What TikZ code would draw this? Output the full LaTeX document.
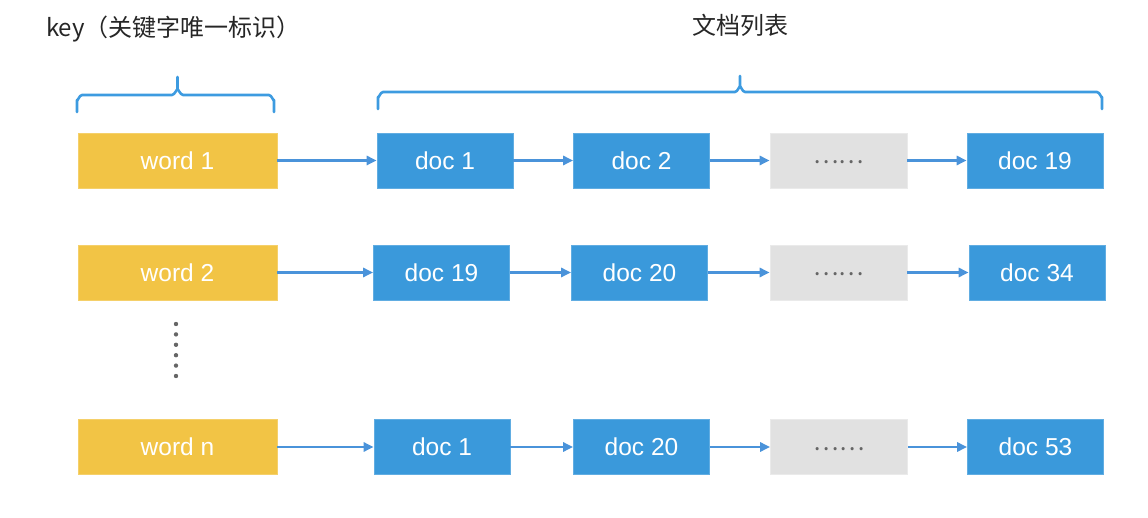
\documentclass[tikz,border=0pt]{standalone}
\usepackage{fontspec}
\setmainfont{Liberation Sans}
\newfontfamily\cjk{Noto Sans CJK SC}
\usetikzlibrary{arrows.meta}
\definecolor{wordyellow}{HTML}{F2C445}
\definecolor{docblue}{HTML}{3A99DB}
\definecolor{dotsgray}{HTML}{E1E1E1}
\definecolor{arrowblue}{HTML}{4A93DA}
\definecolor{bracecol}{HTML}{3D9BE0}
\definecolor{dotcol}{HTML}{666666}
\tikzset{
  wordbox/.style={fill=wordyellow, draw=wordyellow!80!white, line width=0.6pt, minimum width=199pt, minimum height=55pt, inner sep=0pt, text=white, font=\fontsize{24.5}{28}\selectfont},
  docbox/.style={fill=docblue, draw=docblue!80!white, line width=0.6pt, minimum width=136pt, minimum height=55pt, inner sep=0pt, text=white, font=\fontsize{24.5}{28}\selectfont},
  morebox/.style={fill=dotsgray, draw=dotsgray!70!white, line width=0.6pt, minimum width=137pt, minimum height=55pt, inner sep=0pt, text=dotcol, font=\cjk\fontsize{24}{28}\selectfont},
  link/.style={draw=arrowblue, line width=2.6pt, -{Triangle[length=10pt,width=9pt]}},
  bracket/.style={draw=bracecol, line width=2.6pt, line cap=round, line join=round},
  title/.style={font=\cjk\fontsize{24}{28}\selectfont, text=black!85, inner sep=0pt},
  vdot/.style={circle, fill=dotcol, inner sep=0pt, minimum size=4.4pt}
}
\begin{document}
\begin{tikzpicture}[x=1pt,y=-1pt]
\useasboundingbox (0,0) rectangle (1148,518);

% titles
\node[title, anchor=west] (keytitle) at (46,29) {key（关键字唯一标识）};
\node[title] (listtitle) at (740,25) {文档列表};

% braces
\draw[bracket] (77,112) -- (77,100) to[out=-90,in=180] (82,95) -- (172,95)
  to[out=0,in=90] (177.5,90) -- (177.5,77);
\draw[bracket] (177.5,90) to[out=90,in=180] (183,95) -- (269,95) to[out=0,in=-90] (274,100) -- (274,112);
\draw[bracket] (378,109) -- (378,97) to[out=-90,in=180] (383,92) -- (735,92)
  to[out=0,in=90] (740,87) -- (740,76);
\draw[bracket] (740,87) to[out=90,in=180] (745,92) -- (1097,92) to[out=0,in=-90] (1102,97) -- (1102,109);

% row 1
\node[wordbox] (w1) at (177.5,160.5) {word 1};
\node[docbox] (r1a) at (445,160.5) {doc 1};
\node[docbox] (r1b) at (641.5,160.5) {doc 2};
\node[morebox] (r1c) at (838.5,160.5) {\raisebox{-7pt}{……}};
\node[docbox] (r1d) at (1035,160.5) {doc 19};

% row 2
\node[wordbox] (w2) at (177.5,272.5) {word 2};
\node[docbox] (r2a) at (441.5,272.5) {doc 19};
\node[docbox] (r2b) at (639.5,272.5) {doc 20};
\node[morebox] (r2c) at (838.5,272.5) {\raisebox{-7pt}{……}};
\node[docbox] (r2d) at (1037,272.5) {doc 34};

% row 3
\node[wordbox] (w3) at (177.5,447) {word n};
\node[docbox] (r3a) at (442,447) {doc 1};
\node[docbox] (r3b) at (641.5,447) {doc 20};
\node[morebox] (r3c) at (839,447) {\raisebox{-7pt}{……}};
\node[docbox] (r3d) at (1035.5,447) {doc 53};

% arrows
\foreach \r/\w in {1/w1,2/w2,3/w3}{
  \draw[link] (\w.east) -- (r\r a.west);
  \draw[link] (r\r a.east) -- (r\r b.west);
  \draw[link] (r\r b.east) -- (r\r c.west);
  \draw[link] (r\r c.east) -- (r\r d.west);
}

% vertical dots
\foreach \i in {0,...,5}{
  \node[vdot] (vd\i) at (176,324+10.4*\i) {};
}
\end{tikzpicture}
\end{document}
